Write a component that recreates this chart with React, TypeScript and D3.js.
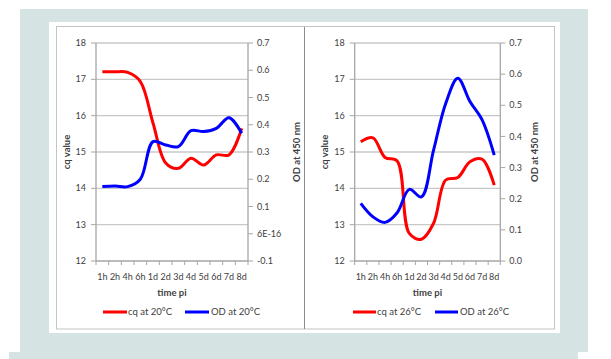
import React from 'react';
import * as d3 from 'd3';

// time points post infection
const timePoints = ['1h', '2h', '4h', '6h', '1d', '2d', '3d', '4d', '5d', '6d', '7d', '8d'];

// values
const cq20 = [17.21, 17.21, 17.19, 16.94, 15.8, 14.7, 14.55, 14.83, 14.64, 14.92, 14.92, 15.65];
const od20 = [0.173, 0.175, 0.173, 0.2, 0.338, 0.326, 0.32, 0.378, 0.375, 0.387, 0.426, 0.369];
const cq26 = [15.28, 15.39, 14.85, 14.75, 12.76, 12.6, 13.04, 14.23, 14.3, 14.73, 14.8, 14.09];
const od26 = [0.185, 0.142, 0.124, 0.155, 0.23, 0.206, 0.356, 0.506, 0.587, 0.512, 0.453, 0.34];

const cqTicks = [12, 13, 14, 15, 16, 17, 18];
const od20Ticks = [-0.1, 0, 0.1, 0.2, 0.3, 0.4, 0.5, 0.6, 0.7];
const od20Labels = ['-0.1', '6E-16', '0.1', '0.2', '0.3', '0.4', '0.5', '0.6', '0.7'];
const od26Ticks = [0, 0.1, 0.2, 0.3, 0.4, 0.5, 0.6, 0.7];
const od26Labels = ['0.0', '0.1', '0.2', '0.3', '0.4', '0.5', '0.6', '0.7'];

const FONT = 'Lato, "Open Sans", sans-serif';
const TXT = '#404040';

type PanelProps = {
  left: number; right: number; top: number; bottom: number;
  cq: number[]; od: number[];
  odTicks: number[]; odLabels: string[];
  temp: string;
  cqTitleX: number; odTitleX: number;
  legend: { red: number; blue: number; w: number };
};

function Panel(p: PanelProps) {
  const x = d3.scaleBand().domain(timePoints).range([p.left, p.right]);
  const bw = x.bandwidth();
  const cx = (d: string) => (x(d) as number) + bw / 2;
  const yL = d3.scaleLinear().domain([12, 18]).range([p.bottom, p.top]);
  const yR = d3.scaleLinear().domain([p.odTicks[0], p.odTicks[p.odTicks.length - 1]]).range([p.bottom, p.top]);

  const lineL = d3.line<number>().x((d, i) => cx(timePoints[i])).y(d => yL(d)).curve(d3.curveCatmullRom.alpha(0.5));
  const lineR = d3.line<number>().x((d, i) => cx(timePoints[i])).y(d => yR(d)).curve(d3.curveCatmullRom.alpha(0.5));
  const bounds = d3.range(timePoints.length + 1).map(i => p.left + i * bw);
  const midY = (p.top + p.bottom) / 2;
  const legY = 312;

  return (
    <g fontFamily={FONT}>
      {cqTicks.map(t => (
        <line key={'g' + t} x1={p.left} x2={p.right} y1={yL(t)} y2={yL(t)}
          stroke={t === 12 ? '#a6a6a6' : '#c8c8c8'} strokeWidth={1.3} />
      ))}
      <line x1={p.left} x2={p.left} y1={p.top} y2={p.bottom} stroke="#a6a6a6" strokeWidth={1.3} />
      <line x1={p.right} x2={p.right} y1={p.top} y2={p.bottom} stroke="#a6a6a6" strokeWidth={1.3} />
      {cqTicks.map(t => (
        <g key={'l' + t}>
          <line x1={p.left - 5} x2={p.left} y1={yL(t)} y2={yL(t)} stroke="#a6a6a6" />
          <text x={p.left - 10} y={yL(t)} dy="0.35em" textAnchor="end" fontSize={9} fill={TXT}>{t}</text>
        </g>
      ))}
      {p.odTicks.map((t, i) => (
        <g key={'r' + i}>
          <line x1={p.right} x2={p.right + 5} y1={yR(t)} y2={yR(t)} stroke="#a6a6a6" />
          <text x={p.right + 9} y={yR(t)} dy="0.35em" fontSize={9} fill={TXT}>{p.odLabels[i]}</text>
        </g>
      ))}
      {bounds.map((b, i) => (
        <line key={'b' + i} x1={b} x2={b} y1={p.bottom} y2={p.bottom + 4} stroke="#a6a6a6" />
      ))}
      {timePoints.map(d => (
        <text key={'x' + d} x={cx(d)} y={280} textAnchor="middle" fontSize={9} fill={TXT}>{d}</text>
      ))}
      <text x={(p.left + p.right) / 2} y={296} textAnchor="middle" fontSize={9.5} fontWeight="bold" fill={TXT}>time pi</text>
      <text transform={`translate(${p.cqTitleX},${midY}) rotate(-90)`} dy="0.35em" textAnchor="middle"
        fontSize={9.5} fontWeight="bold" fill={TXT}>cq value</text>
      <text transform={`translate(${p.odTitleX},${midY}) rotate(-90)`} dy="0.35em" textAnchor="middle"
        fontSize={9.5} fontWeight="bold" fill={TXT}>OD at 450 nm</text>

      <path d={lineL(p.cq) || ''} fill="none" stroke="#ff0000" strokeWidth={3} strokeLinejoin="round" />
      <path d={lineR(p.od) || ''} fill="none" stroke="#0000ff" strokeWidth={3} strokeLinejoin="round" />

      <line x1={p.legend.red} x2={p.legend.red + p.legend.w} y1={legY} y2={legY} stroke="#ff0000" strokeWidth={3} />
      <text x={p.legend.red + p.legend.w + 1} y={legY} dy="0.35em" fontSize={9.5} fill={TXT}>{`cq at ${p.temp}°C`}</text>
      <line x1={p.legend.blue} x2={p.legend.blue + p.legend.w} y1={legY} y2={legY} stroke="#0000ff" strokeWidth={3} />
      <text x={p.legend.blue + p.legend.w + 2} y={legY} dy="0.35em" fontSize={9.5} fill={TXT}>{`OD at ${p.temp}°C`}</text>
    </g>
  );
}

export default function App() {
  return (
    <svg width={611} height={359} style={{ position: 'absolute', left: 0, top: 0 }}>
      <rect x={0} y={0} width={611} height={359} fill="#ffffff" />
      <rect x={20} y={9} width={568} height={343} fill="#d5e3e3" />
      <rect x={9} y={352} width={569} height={7} fill="#d5e3e3" />
      <rect x={49} y={22} width={511} height={311} fill="#ffffff" />
      <rect x={56.5} y={26.5} width={498} height={302.5} fill="none" stroke="#c4c4c4" />
      <line x1={304.5} x2={304.5} y1={27} y2={329} stroke="#8c8c8c" />
      <Panel left={96} right={248} top={43} bottom={261} cq={cq20} od={od20}
        odTicks={od20Ticks} odLabels={od20Labels} temp="20" cqTitleX={67} odTitleX={297}
        legend={{ red: 103, blue: 185, w: 24 }} />
      <Panel left={354.7} right={500.3} top={43} bottom={261} cq={cq26} od={od26}
        odTicks={od26Ticks} odLabels={od26Labels} temp="26" cqTitleX={325} odTitleX={535}
        legend={{ red: 353, blue: 435, w: 23 }} />
    </svg>
  );
}
